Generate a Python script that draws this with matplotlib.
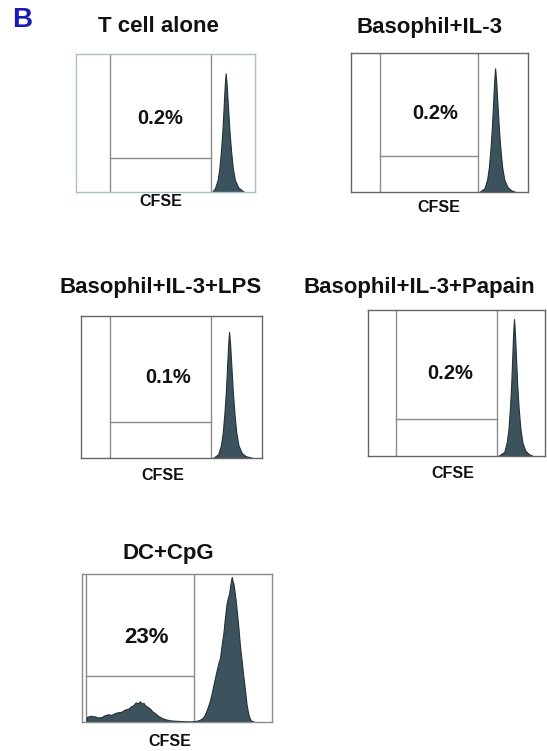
import matplotlib.pyplot as plt

W, H = 547, 751

titles = ['T cell alone', 'Basophil+IL-3', 'Basophil+IL-3+LPS',
          'Basophil+IL-3+Papain', 'DC+CpG']
percent_labels = ['0.2%', '0.2%', '0.1%', '0.2%', '23%']

# gates (channel units 0-100): left line, middle line, horizontal line height
gate_left = [19.0, 16.4, 16.0, 15.8, 2.1]
gate_mid = [75.4, 71.8, 71.8, 72.9, 59.1]
gate_h = [24.3, 25.9, 25.4, 25.3, 31.0]

# histograms (CFSE channel, % of max)
hist_x = [
    [76.0, 77.6, 79.1, 80.1, 81.0, 81.8, 82.5, 83.1, 83.6, 84.2, 84.9, 85.7, 86.6, 87.6,
     88.8, 90.6, 92.6, 94.0],
    [72.5, 75.4, 76.9, 77.9, 78.8, 79.6, 80.3, 80.9, 81.4, 82.0, 82.7, 83.5, 84.4, 85.4,
     86.6, 88.4, 90.4, 93.0],
    [73.0, 75.8, 77.3, 78.3, 79.2, 80.0, 80.7, 81.3, 81.8, 82.4, 83.1, 83.9, 84.8, 85.8,
     87.0, 88.8, 91.0, 95.0],
    [73.5, 77.0, 78.4, 79.4, 80.2, 80.9, 81.5, 82.0, 82.5, 83.0, 83.6, 84.3, 85.1, 86.1,
     87.2, 88.8, 90.8, 93.2],
    [2.4, 4.5, 6.8, 8.5, 10.4, 12.0, 13.9, 15.5, 17.4, 19.0, 20.9, 22.5, 24.4, 25.8, 27.0,
     28.2, 29.6, 30.5, 31.4, 32.3, 33.2, 34.5, 35.8, 37.0, 38.4, 40.0, 42.0, 44.0, 46.4,
     50.0, 54.2, 57.0, 59.5, 61.5, 63.0, 64.4, 65.6, 67.0, 68.2, 69.5, 70.9, 71.8, 72.6,
     73.5, 74.4, 75.2, 76.1, 76.8, 77.4, 78.1, 78.8, 79.3, 79.7, 80.3, 80.9, 81.6, 82.3,
     83.1, 84.0, 84.9, 85.8, 86.6, 87.5, 88.4, 89.3, 91.0],
]
hist_y = [
    [0, 2.6, 8.6, 17.2, 30.1, 44.7, 61.9, 77.4, 86, 77.4, 61.9, 44.7, 30.1, 17.2, 8.6, 3.4,
     1.3, 0],
    [0, 2.7, 8.9, 17.8, 31.2, 46.3, 64.1, 80.1, 89, 80.1, 64.1, 46.3, 31.2, 17.8, 8.9, 3.6,
     1.3, 0],
    [0, 2.7, 8.9, 17.7, 31.0, 46.1, 63.9, 79.8, 88.7, 79.8, 63.9, 46.1, 31.0, 17.7, 8.9,
     3.5, 1.3, 0],
    [0, 2.8, 9.4, 18.8, 32.8, 48.8, 67.5, 84.4, 93.8, 84.4, 67.5, 48.8, 32.8, 18.8, 9.4,
     3.8, 1.4, 0],
    [3.4, 4.2, 3.8, 3.0, 3.4, 4.6, 5.2, 4.8, 6.1, 6.6, 7.0, 8.4, 9.0, 10.6, 11.3,
     13.2, 12.8, 14.0, 12.4, 13.0, 11.3, 10.2, 9.0, 7.2, 6.0, 4.2, 2.7, 1.8, 1.1,
     0.8, 0.5, 0.4, 0.7, 1.2, 2.2, 4.2, 7.9, 13.0, 19.0, 27.0, 35.0, 40.0, 43.0,
     52.0, 60.0, 70.0, 80.0, 84.0, 86.7, 93.0, 98.0, 95.0, 93.5, 88.0, 82.0, 73.0, 64.0,
     52.0, 41.7, 31.0, 21.4, 12.0, 5.6, 2.0, 0.7, 0.0],
]

# layout in pixels: box (left, top, right, bottom), title centre, CFSE centre, label pos
boxes = [(76, 54, 255, 192), (351, 53, 528, 192), (81, 316, 262, 458),
         (368, 310, 545, 456), (82, 574, 272, 722)]
title_pos = [(158, 27), (429, 28), (161, 287), (419, 288), (168, 553)]
cfse_pos = [(161, 202), (439, 207), (163, 475), (453, 474), (170, 742)]
label_pos = [(46.9, 53.6), (47.5, 56.8), (48.0, 57.0), (46.3, 56.8), (34.2, 56.8)]
label_size = [14.5, 14.5, 14.5, 14.5, 16]
frame_colors = ['#a9c0c8', '#666666', '#666666', '#666666', '#8a8a8a']

fill_color = '#3c525c'
gate_color = '#8c8c8c'

plt.rcParams['font.family'] = ['Liberation Sans', 'DejaVu Sans']

fig = plt.figure(figsize=(W / 100, H / 100), dpi=100)


def px(x, y):
    return x / W, 1 - y / H


for i in range(5):
    l, t, r, b = boxes[i]
    ax = fig.add_axes([l / W, 1 - b / H, (r - l) / W, (b - t) / H])
    ax.set_xlim(0, 100)
    ax.set_ylim(0, 100)
    ax.set_xticks([])
    ax.set_yticks([])
    for s in ax.spines.values():
        s.set_color(frame_colors[i])
        s.set_linewidth(1.0)
    ax.fill_between(hist_x[i], hist_y[i], 0, color=fill_color, linewidth=0.8,
                    edgecolor='#243238', zorder=2)
    ax.axvline(gate_left[i], color=gate_color, lw=1.0, zorder=1)
    ax.axvline(gate_mid[i], color=gate_color, lw=1.0, zorder=1)
    ax.plot([gate_left[i], gate_mid[i]], [gate_h[i], gate_h[i]], color=gate_color,
            lw=1.0, zorder=1)
    ax.text(label_pos[i][0], label_pos[i][1], percent_labels[i], ha='center',
            va='center', fontsize=label_size[i], fontweight='bold', color='#111111')

    tx, ty = px(*title_pos[i])
    fig.text(tx, ty, titles[i], ha='center', va='center', fontsize=16,
             fontweight='bold', color='#111111')
    cx, cy = px(*cfse_pos[i])
    fig.text(cx, cy, 'CFSE', ha='center', va='center', fontsize=11.5,
             fontweight='bold', color='#111111')

bx, by = px(22, 20)
fig.text(bx, by, 'B', ha='center', va='center', fontsize=20, fontweight='bold',
         color='#1a1ab4')

fig.savefig('out.png', dpi=100)
